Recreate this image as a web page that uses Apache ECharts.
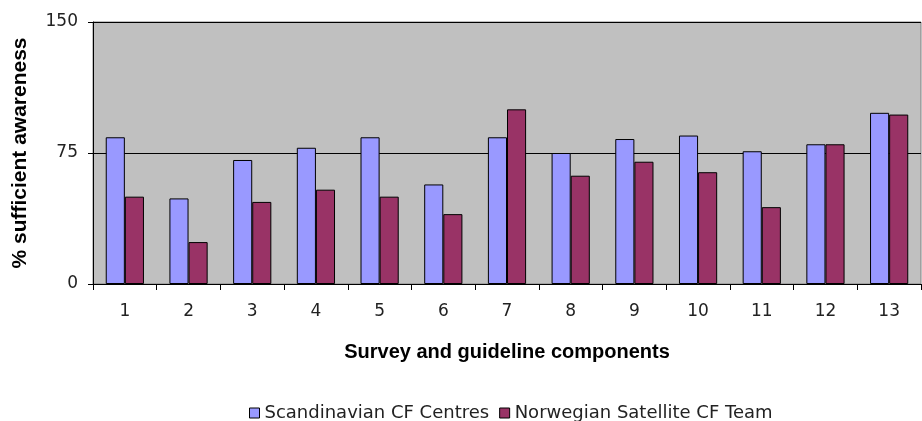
<!DOCTYPE html>
<html>
<head>
<meta charset="utf-8">
<script src="https://cdn.jsdelivr.net/npm/echarts@6/dist/echarts.min.js"></script>
<style>
  html, body { margin: 0; padding: 0; background: #fff; }
  #chart { width: 922px; height: 421px; }
</style>
</head>
<body>
<div id="chart"></div>
<script>
// survey components 1..13
const categories = ["1", "2", "3", "4", "5", "6", "7", "8", "9", "10", "11", "12", "13"];
const scandinavian = [84, 49, 71, 78, 84, 57, 84, 75, 83, 85, 76, 80, 98];
const norwegian = [50, 24, 47, 54, 50, 40, 100, 62, 70, 64, 44, 80, 97];
const seriesNames = ["Scandinavian CF Centres", "Norwegian Satellite CF Team"];

var chart = echarts.init(document.getElementById("chart"));
var font = "'Liberation Sans', Arial, sans-serif";
var wide = "'DejaVu Sans', sans-serif";

var option = {
  animation: false,
  color: ["#9999ff", "#993366"],
  textStyle: { fontFamily: font },
  grid: {
    left: 93,
    right: 1,
    top: 22,
    bottom: 137,
    show: true,
    backgroundColor: "#c0c0c0",
    borderColor: "#808080",
    borderWidth: 1,
  },
  legend: {
    top: 399,
    left: 244,
    itemWidth: 10,
    itemHeight: 10,
    itemGap: 10,
    icon: "rect",
    textStyle: { fontFamily: wide, fontSize: 18, color: "#222" },
    itemStyle: { borderColor: "#000", borderWidth: 1 },
    data: seriesNames,
  },
  xAxis: {
    type: "category",
    data: categories,
    name: "Survey and guideline components",
    nameLocation: "middle",
    nameGap: 58,
    nameTextStyle: { fontFamily: font, fontSize: 20, fontWeight: "bold", color: "#000" },
    axisLine: { lineStyle: { color: "#000", width: 1 } },
    axisTick: { show: true, alignWithLabel: false, length: 6, lineStyle: { color: "#000" } },
    axisLabel: { fontFamily: wide, fontSize: 17, color: "#222", margin: 19 },
  },
  yAxis: {
    type: "value",
    min: 0,
    max: 150,
    interval: 75,
    name: "% sufficient awareness",
    nameLocation: "middle",
    nameGap: 62,
    nameTextStyle: { fontFamily: font, fontSize: 21, fontWeight: "bold", color: "#000" },
    axisLine: { show: true, lineStyle: { color: "#000", width: 1 } },
    axisTick: { show: true, length: 5, lineStyle: { color: "#000" } },
    axisLabel: { fontFamily: wide, fontSize: 17, color: "#222", margin: 15 },
    splitLine: { show: true, lineStyle: { color: "#000", width: 1 } },
  },
  series: [
    {
      name: seriesNames[0],
      type: "bar",
      data: scandinavian,
      barGap: "0%",
      barCategoryGap: "40%",
      itemStyle: { borderColor: "#000", borderWidth: 1 },
    },
    {
      name: seriesNames[1],
      type: "bar",
      data: norwegian,
      barGap: "0%",
      barCategoryGap: "40%",
      itemStyle: { borderColor: "#000", borderWidth: 1 },
    },
  ],
};

chart.setOption(option);
</script>
</body>
</html>
